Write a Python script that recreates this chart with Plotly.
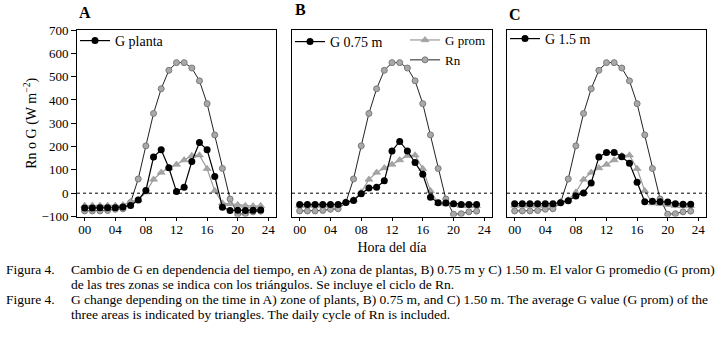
import plotly.graph_objects as go

# ---------------- data ----------------
hours = list(range(24))
x_tick_vals = [0, 4, 8, 12, 16, 20, 24]
x_tick_text = ["00", "04", "08", "12", "16", "20", "24"]
y_tick_vals = [-100, 0, 100, 200, 300, 400, 500, 600, 700]
y_tick_text = ["\u2212100", "0", "100", "200", "300", "400", "500", "600", "700"]

rn = [-76, -76, -76, -74, -69, -67, -40, 61, 203, 342, 448, 527,
      560, 560, 537, 482, 384, 250, 106, -25, -90, -88, -80, -77]
g_prom = [-53, -53, -53, -53, -53, -51, -37, -29, 4, 59, 89, 108,
          123, 142, 161, 163, 105, 10, -43, -46, -50, -54, -55, -54]
g_planta = [-64, -64, -63, -63, -62, -59, -53, -29, 12, 155, 186, 109,
            7, 25, 136, 217, 186, 72, -60, -74, -73, -74, -73, -72]
g_075 = [-48, -48, -48, -48, -48, -48, -40, -31, -2, 22, 25, 53,
         181, 222, 181, 132, 81, -17, -41, -42, -45, -48, -48, -48]
g_150 = [-45, -45, -45, -45, -45, -45, -41, -32, -12, 1, 44, 155,
         175, 175, 156, 128, 47, -37, -35, -37, -38, -45, -47, -47]

panel_letters = ["A", "B", "C"]
g_names = ["G planta", "G 0.75 m", "G 1.5 m"]
g_series = [g_planta, g_075, g_150]

caption_es_label = "Figura 4."
caption_es = ["Cambio de G en dependencia del tiempo, en A) zona de plantas, B) 0.75 m y C) 1.50 m. El valor G promedio (G prom)",
              "de las tres zonas se indica con los triángulos. Se incluye el ciclo de Rn."]
caption_en_label = "Figure 4."
caption_en = ["G change depending on the time in A) zone of plants, B) 0.75 m, and C) 1.50 m. The average G value (G prom) of the",
              "three areas is indicated by triangles. The daily cycle of Rn is included."]

# ---------------- layout helpers ----------------
W, H = 724, 344
FONT = "Liberation Serif, Times New Roman, serif"
px_x = lambda p: p / W
px_y = lambda p: 1 - p / H

x_domains = [(77, 276), (292, 492), (507, 706)]
y_top, y_bot = 30, 216.5

fig = go.Figure()

g_legends = ["legend", "legend2", "legend4"]

for i in range(3):
    xa = "x" if i == 0 else f"x{i+1}"
    ya = "y" if i == 0 else f"y{i+1}"
    # Rn
    fig.add_trace(go.Scatter(
        x=hours, y=rn, xaxis=xa, yaxis=ya, mode="lines+markers", name="Rn",
        line=dict(color="#222222", width=1),
        marker=dict(symbol="circle", size=6, color="#a9a9a9",
                    line=dict(color="#7a7a7a", width=1)),
        showlegend=(i == 1), legend="legend3", legendrank=2))
    # G prom
    fig.add_trace(go.Scatter(
        x=hours, y=g_prom, xaxis=xa, yaxis=ya, mode="lines+markers", name="G prom",
        line=dict(color="#9a9a9a", width=1.2),
        marker=dict(symbol="triangle-up", size=7, color="#a5a5a5",
                    line=dict(color="#8a8a8a", width=0.5)),
        showlegend=(i == 1), legend="legend3", legendrank=1))
    # G black
    fig.add_trace(go.Scatter(
        x=hours, y=g_series[i], xaxis=xa, yaxis=ya, mode="lines+markers", name=g_names[i],
        line=dict(color="black", width=1.2),
        marker=dict(symbol="circle", size=7, color="black"),
        showlegend=True, legend=g_legends[i]))

axis_common = dict(
    showline=True, mirror=True, linecolor="black", linewidth=1,
    showgrid=False, zeroline=False, automargin=False,
    tickfont=dict(family=FONT, size=13, color="black"),
)

for i in range(3):
    xkey = "xaxis" if i == 0 else f"xaxis{i+1}"
    ykey = "yaxis" if i == 0 else f"yaxis{i+1}"
    xa_anchor = "y" if i == 0 else f"y{i+1}"
    ya_anchor = "x" if i == 0 else f"x{i+1}"
    x0, x1 = x_domains[i]
    xdict = dict(axis_common, domain=[px_x(x0), px_x(x1)], anchor=xa_anchor,
                 range=[-1, 25], tickmode="array", tickvals=x_tick_vals,
                 ticktext=x_tick_text, ticks="outside", ticklen=3,
                 tickcolor="black", ticklabelstandoff=-2)
    if i == 1:
        xdict["title"] = dict(text="Hora del día",
                              font=dict(family=FONT, size=14, color="black"),
                              standoff=6)
    fig.layout[xkey] = xdict
    ydict = dict(axis_common, domain=[px_y(y_bot), px_y(y_top)], anchor=ya_anchor,
                 range=[-100, 700], tickmode="array", tickvals=y_tick_vals,
                 ticktext=y_tick_text)
    if i == 0:
        ydict.update(ticks="outside", ticklen=5, tickcolor="black",
                     title=dict(text="Rn o G (W m<sup>\u22122</sup>)",
                                font=dict(family=FONT, size=14, color="black"),
                                standoff=1))
    else:
        ydict.update(showticklabels=False, ticks="")
    fig.layout[ykey] = ydict

    # dotted zero reference
    fig.add_shape(type="line", xref=f"{'x' if i == 0 else 'x' + str(i+1)} domain",
                  yref=("y" if i == 0 else f"y{i+1}"),
                  x0=0, x1=1, y0=0, y1=0,
                  line=dict(color="black", width=1, dash="dot"))

# panel letters
letter_pos = [(77, 13), (293, 9), (507, 15)]
for (lx, ly), letter in zip(letter_pos, panel_letters):
    fig.add_annotation(xref="paper", yref="paper", x=px_x(lx), y=px_y(ly),
                       xanchor="left", yanchor="middle", showarrow=False,
                       text=f"<b>{letter}</b>",
                       font=dict(family=FONT, size=16, color="black"))

# captions
CAP = 13.5
cap_lines = [(caption_es_label, caption_es[0], 269), (None, caption_es[1], 284),
             (caption_en_label, caption_en[0], 299), (None, caption_en[1], 314)]
for label, txt, cy in cap_lines:
    if label:
        fig.add_annotation(xref="paper", yref="paper", x=px_x(4), y=px_y(cy),
                           xanchor="left", yanchor="middle", showarrow=False,
                           text=label, font=dict(family=FONT, size=CAP, color="black"))
    fig.add_annotation(xref="paper", yref="paper", x=px_x(69), y=px_y(cy),
                       xanchor="left", yanchor="middle", showarrow=False,
                       text=txt, font=dict(family=FONT, size=CAP, color="black"))

leg_common = dict(bgcolor="rgba(0,0,0,0)", borderwidth=0, xanchor="left",
                  yanchor="top", font=dict(family=FONT, size=14, color="black"),
                  tracegroupgap=0, itemsizing="trace")

fig.update_layout(
    width=W, height=H, autosize=False,
    margin=dict(l=0, r=0, t=0, b=0, autoexpand=False),
    paper_bgcolor="white", plot_bgcolor="white",
    font=dict(family=FONT, color="black"),
    legend=dict(leg_common, x=px_x(75), y=px_y(25)),
    legend2=dict(leg_common, x=px_x(290), y=px_y(26)),
    legend3=dict(leg_common, x=px_x(405), y=px_y(25), font=dict(family=FONT, size=13, color="black")),
    legend4=dict(leg_common, x=px_x(505), y=px_y(23)),
)

fig.write_html("out.html", config={"displayModeBar": False},
               post_script="document.body.style.margin='0px';")
